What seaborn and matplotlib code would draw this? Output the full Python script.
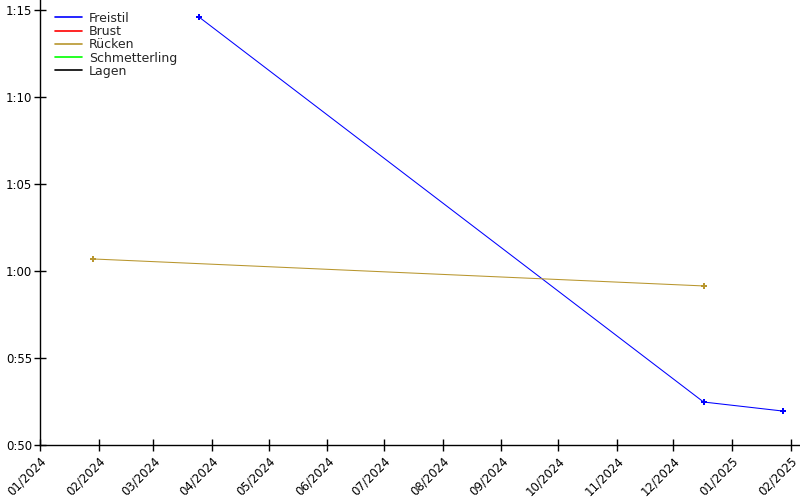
import matplotlib
matplotlib.use("Agg")
import matplotlib.pyplot as plt
import matplotlib.dates as mdates
import matplotlib.ticker as mticker
import matplotlib.transforms as mtransforms
import seaborn as sns
import pandas as pd

series_names = ["Freistil", "Brust", "Rücken", "Schmetterling", "Lagen"]
series_colors = ["#0000ff", "#ff0000", "#b8962e", "#00ff00", "#000000"]

freistil_dates = ["2024-03-25", "2024-12-17", "2025-01-28"]
freistil_secs = [74.6, 52.47, 51.95]
brust_dates = []
brust_secs = []
ruecken_dates = ["2024-01-29", "2024-12-17"]
ruecken_secs = [60.69, 59.14]
schmetterling_dates = []
schmetterling_secs = []
lagen_dates = []
lagen_secs = []

all_dates = [freistil_dates, brust_dates, ruecken_dates, schmetterling_dates, lagen_dates]
all_secs = [freistil_secs, brust_secs, ruecken_secs, schmetterling_secs, lagen_secs]

frames = []
for name, d, s in zip(series_names, all_dates, all_secs):
    frames.append(pd.DataFrame({"Datum": pd.to_datetime(pd.Series(d, dtype="object")),
                                "Zeit": pd.Series(s, dtype="float"),
                                "Lage": name}))
df = pd.concat(frames, ignore_index=True)

sns.set_theme(style="ticks")
plt.rcParams["font.family"] = ["DejaVu Sans"]

fig = plt.figure(figsize=(8, 5), dpi=100)
ax = fig.add_axes([0.05, 0.11, 0.95, 0.89])

palette = dict(zip(series_names, series_colors))
for name in series_names:
    sub = df[df["Lage"] == name]
    if len(sub):
        sns.lineplot(data=sub, x="Datum", y="Zeit", ax=ax, color=palette[name],
                     linewidth=0.75, marker="P", markersize=4, markeredgewidth=0,
                     legend=False)
    ax.plot([], [], color=palette[name], linewidth=1.2, label=name)

ax.set_xlim(pd.Timestamp("2024-01-01"), pd.Timestamp("2025-02-06"))
ax.set_ylim(50, 75.57)
ax.xaxis.set_major_locator(mdates.MonthLocator())
ax.xaxis.set_major_formatter(mdates.DateFormatter("%m/%Y"))
ax.yaxis.set_major_locator(mticker.MultipleLocator(5))
ax.yaxis.set_major_formatter(mticker.FuncFormatter(lambda v, p: f"{int(v // 60)}:{int(round(v % 60)):02d}"))
ax.tick_params(labelsize=8.5, length=9, width=1, colors="black", direction="inout")
ax.tick_params(axis="y", pad=1)
ax.tick_params(axis="x", pad=1)
offset = mtransforms.ScaledTranslation(0 / 100, -2 / 100, fig.dpi_scale_trans)
for lbl in ax.get_xticklabels():
    lbl.set_rotation(45)
    lbl.set_ha("right")
    lbl.set_va("top")
    lbl.set_rotation_mode("anchor")
    lbl.set_transform(lbl.get_transform() + offset)
ax.set_xlabel("")
ax.set_ylabel("")
for sp in ["top", "right"]:
    ax.spines[sp].set_visible(False)
for sp in ["left", "bottom"]:
    ax.spines[sp].set_linewidth(1)
    ax.spines[sp].set_color("black")

ax.legend(loc="upper left", bbox_to_anchor=(0.008, 0.993), frameon=False, fontsize=9,
          handlelength=2.2, labelspacing=0.02, borderaxespad=0.3, handletextpad=0.55)

fig.savefig("out.png", dpi=100)
